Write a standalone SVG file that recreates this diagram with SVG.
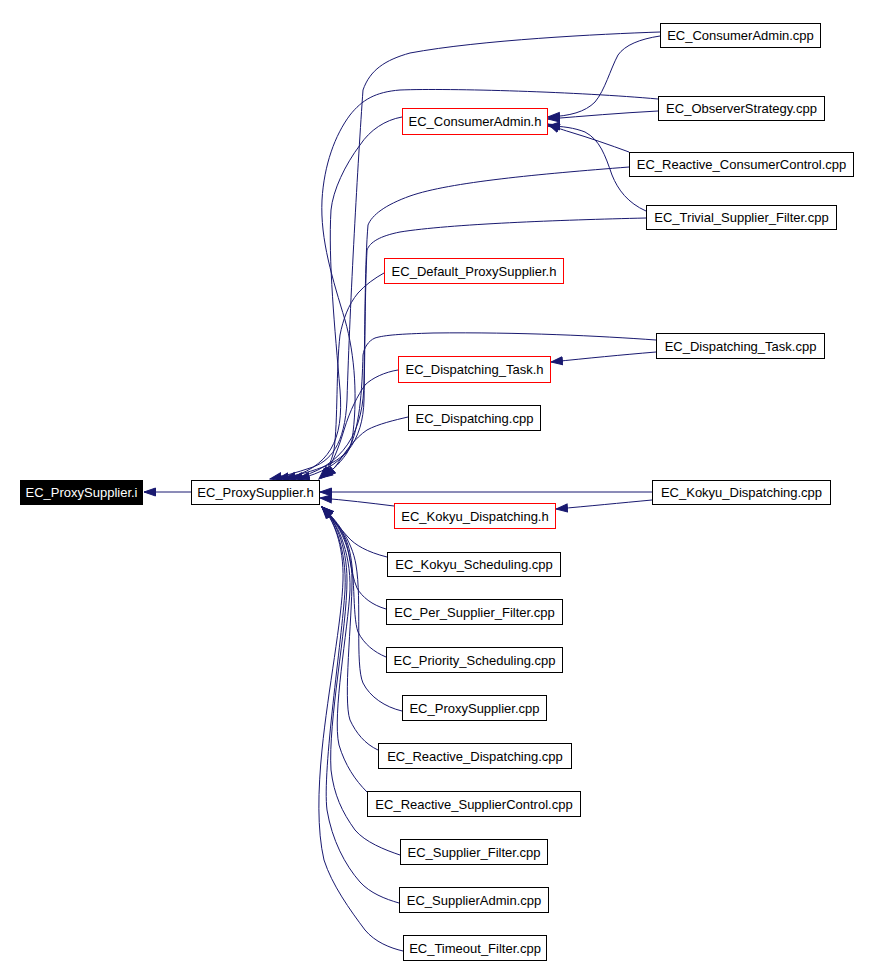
<svg xmlns="http://www.w3.org/2000/svg" width="870" height="966" viewBox="0 0 870 966">
<style>
.n rect{fill:#fff;stroke:#000;stroke-width:1}
.n.r rect{stroke:#f00}
.n.k rect{fill:#000;stroke:#000}
.n text{font-family:"Liberation Sans",Arial,sans-serif;font-size:13px;text-anchor:middle;fill:#000}
.n.k text{fill:#fff}
#edges path{fill:none;stroke:#191970;stroke-width:1;marker-end:url(#ah)}
</style>
<defs>
<marker id="ah" markerUnits="userSpaceOnUse" markerWidth="13" markerHeight="10" refX="12" refY="4.5" orient="auto" viewBox="0 0 13 9">
<path d="M0.5,0.5 L12,4.5 L0.5,8.5 z" fill="#191970" stroke="#191970" stroke-width="1"/>
</marker>
</defs>
<rect width="870" height="966" fill="#fff"/>
<g id="edges">
<path d="M191,492 L144,492"/>
<path d="M660,32 C600,34 480,40 410,53 C385,60 370,70 363,90 C358,160 350,300 347,400 C345,445 330,462 310,468 C298,472 285,476 270,479"/>
<path d="M658,99 C580,92 450,88 400,90 C375,92 362,100 350,115 C335,135 324,165 322,200 C320,240 333,280 345,320 C355,355 358,400 352,440 C348,462 315,472 277,479"/>
<path d="M402,117 C385,120 370,130 360,145 C345,165 333,190 331,210 C328,260 335,330 340,390 C344,440 330,468 284,479"/>
<path d="M629,167 C540,174 450,182 410,196 C385,205 372,215 368,225 C365,260 365,320 364,380 C364,430 345,468 291,479"/>
<path d="M646,218 C560,220 450,224 400,232 C380,236 370,242 367,250 C365,290 365,350 364,400 C363,440 345,468 298,479"/>
<path d="M384,273 C375,278 365,285 358,293 C348,305 343,320 340,335 C336,370 338,420 334,450 C331,464 326,472 319,479"/>
<path d="M656,340 C600,336 520,332 433,333 C400,334 385,335 375,338 C368,341 364,348 363,355 C362,390 360,430 347,453 C338,466 330,472 321,478"/>
<path d="M398,370 C385,372 372,378 365,385 C358,395 350,410 344,430 C339,446 334,462 322,478"/>
<path d="M408,417 C395,420 378,424 367,430 C355,438 345,452 338,463 C334,469 329,473 324,477"/>
<path d="M660,36 C640,39 625,45 618,55 C610,70 605,90 595,102 C585,112 570,116 548,117"/>
<path d="M658,111 C620,113 585,116 548,119"/>
<path d="M629,152 C610,145 590,138 570,132 C560,129 555,127 548,124"/>
<path d="M646,211 C628,203 618,190 612,175 C605,155 600,140 585,132 C575,128 562,126 548,126"/>
<path d="M656,352 C620,355 590,358 551,362"/>
<path d="M652,500 C620,503 590,506 556,509"/>
<path d="M652,492 L320,492"/>
<path d="M394,506 C370,503 345,500 320,498"/>
<path d="M387,557 C367,552 355,545 348,537 C340,528 331,518 322,507"/>
<path d="M386,609 C372,605 362,597 357,588 C350,572 350,550 344,537 C339,526 331,516 322,507"/>
<path d="M386,657 C374,652 364,644 358,632 C352,615 356,570 348,545 C344,532 333,517 322,507"/>
<path d="M402,711 C385,707 370,697 363,683 C355,665 362,600 356,565 C352,540 335,518 322,507"/>
<path d="M378,750 C365,744 356,733 350,720 C343,700 352,620 352,580 C352,545 336,520 322,507"/>
<path d="M367,792 C355,780 345,765 339,745 C332,715 348,630 350,590 C351,550 336,520 322,507"/>
<path d="M400,855 C385,850 365,842 355,830 C342,812 334,795 331,770 C328,720 347,630 347,580 C347,545 334,518 322,507"/>
<path d="M399,903 C385,899 370,893 360,882 C345,865 332,840 327,810 C322,770 342,640 345,590 C347,548 333,518 322,507"/>
<path d="M403,951 C390,948 375,942 365,930 C350,910 332,885 324,860 C317,830 318,790 322,750 C328,690 342,620 343,580 C344,545 333,518 322,507"/>
</g>
<g id="n_proxysupplier_i" class="n k"><rect x="20.5" y="480.5" width="122" height="24"/><text x="81.5" y="497">EC_ProxySupplier.i</text></g>
<g id="n_proxysupplier_h" class="n"><rect x="191.5" y="480.5" width="128" height="24"/><text x="255.5" y="497">EC_ProxySupplier.h</text></g>
<g id="n_consumeradmin_cpp" class="n"><rect x="660.5" y="23.5" width="160" height="24"/><text x="740.5" y="40">EC_ConsumerAdmin.cpp</text></g>
<g id="n_observerstrategy_cpp" class="n"><rect x="658.5" y="96.5" width="166" height="24"/><text x="741.5" y="113">EC_ObserverStrategy.cpp</text></g>
<g id="n_consumeradmin_h" class="n r"><rect x="402.5" y="108.5" width="145" height="26"/><text x="475" y="126">EC_ConsumerAdmin.h</text></g>
<g id="n_reactive_consumercontrol_cpp" class="n"><rect x="629.5" y="152.5" width="224" height="24"/><text x="741.5" y="169">EC_Reactive_ConsumerControl.cpp</text></g>
<g id="n_trivial_supplier_filter_cpp" class="n"><rect x="646.5" y="205.5" width="190" height="24"/><text x="741.5" y="222">EC_Trivial_Supplier_Filter.cpp</text></g>
<g id="n_default_proxysupplier_h" class="n r"><rect x="384.5" y="258.5" width="179" height="25"/><text x="474" y="276">EC_Default_ProxySupplier.h</text></g>
<g id="n_dispatching_task_cpp" class="n"><rect x="656.5" y="333.5" width="168" height="25"/><text x="740.5" y="350.5">EC_Dispatching_Task.cpp</text></g>
<g id="n_dispatching_task_h" class="n r"><rect x="398.5" y="356.5" width="152" height="26"/><text x="474.5" y="374">EC_Dispatching_Task.h</text></g>
<g id="n_dispatching_cpp" class="n"><rect x="408.5" y="405.5" width="132" height="25"/><text x="474.5" y="422.5">EC_Dispatching.cpp</text></g>
<g id="n_kokyu_dispatching_cpp" class="n"><rect x="652.5" y="480.5" width="178" height="24"/><text x="741.5" y="497">EC_Kokyu_Dispatching.cpp</text></g>
<g id="n_kokyu_dispatching_h" class="n r"><rect x="394.5" y="503.5" width="161" height="25"/><text x="475" y="521">EC_Kokyu_Dispatching.h</text></g>
<g id="n_kokyu_scheduling_cpp" class="n"><rect x="387.5" y="552.5" width="173" height="24"/><text x="474" y="569">EC_Kokyu_Scheduling.cpp</text></g>
<g id="n_per_supplier_filter_cpp" class="n"><rect x="386.5" y="599.5" width="176" height="25"/><text x="474.5" y="617">EC_Per_Supplier_Filter.cpp</text></g>
<g id="n_priority_scheduling_cpp" class="n"><rect x="386.5" y="647.5" width="176" height="25"/><text x="474.5" y="665">EC_Priority_Scheduling.cpp</text></g>
<g id="n_proxysupplier_cpp" class="n"><rect x="402.5" y="695.5" width="144" height="25"/><text x="474.5" y="713">EC_ProxySupplier.cpp</text></g>
<g id="n_reactive_dispatching_cpp" class="n"><rect x="378.5" y="743.5" width="193" height="25"/><text x="475" y="761">EC_Reactive_Dispatching.cpp</text></g>
<g id="n_reactive_suppliercontrol_cpp" class="n"><rect x="367.5" y="791.5" width="213" height="25"/><text x="474" y="809">EC_Reactive_SupplierControl.cpp</text></g>
<g id="n_supplier_filter_cpp" class="n"><rect x="400.5" y="839.5" width="147" height="25"/><text x="474" y="857">EC_Supplier_Filter.cpp</text></g>
<g id="n_supplieradmin_cpp" class="n"><rect x="399.5" y="887.5" width="149" height="25"/><text x="474" y="905">EC_SupplierAdmin.cpp</text></g>
<g id="n_timeout_filter_cpp" class="n"><rect x="403.5" y="935.5" width="143" height="25"/><text x="475" y="953">EC_Timeout_Filter.cpp</text></g>
</svg>
